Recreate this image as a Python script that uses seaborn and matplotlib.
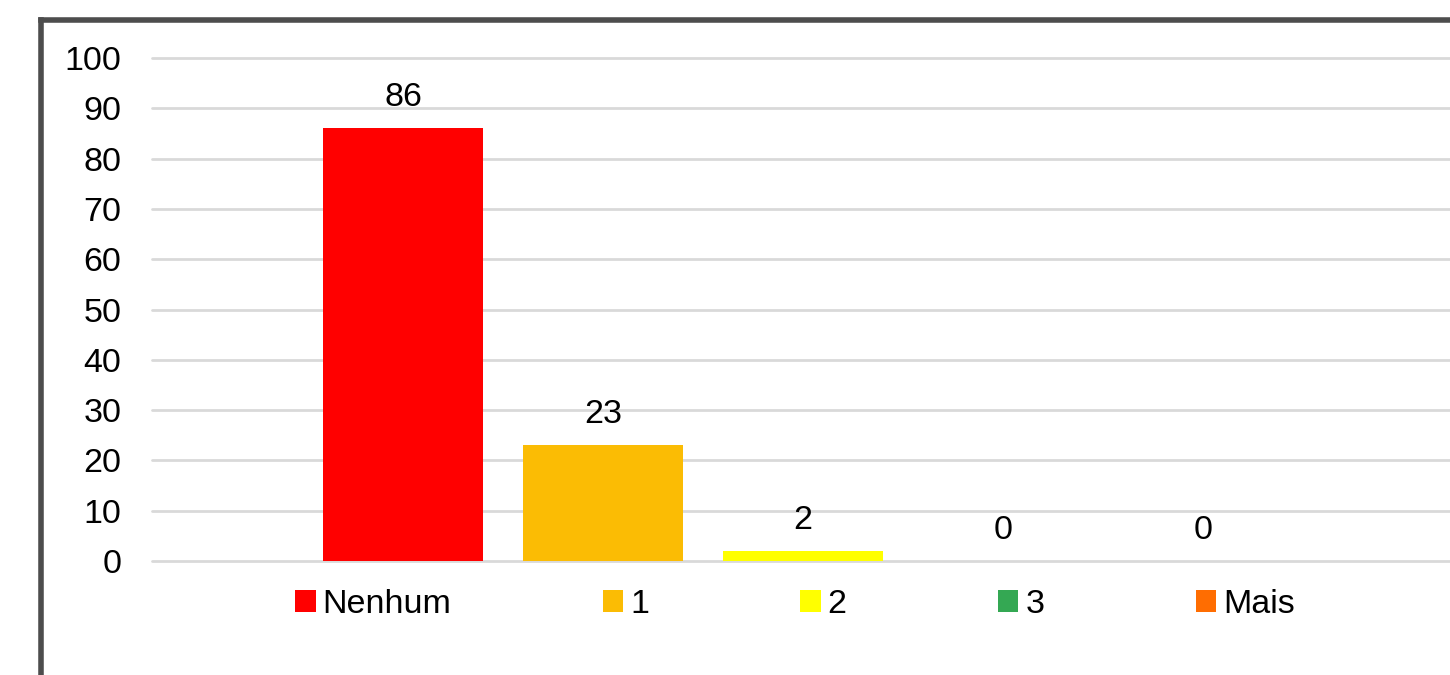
import matplotlib
matplotlib.use("Agg")
import matplotlib.pyplot as plt
import seaborn as sns
import pandas as pd
from matplotlib.lines import Line2D

categories = ["Nenhum", "1", "2", "3", "Mais"]
values = [86, 23, 2, 0, 0]
colors = ["#FF0000", "#FBBC04", "#FFFF00", "#34A853", "#FF6D01"]
y_ticks = [0, 10, 20, 30, 40, 50, 60, 70, 80, 90, 100]

sns.set_theme(style="white")
plt.rcParams["font.family"] = ["Liberation Sans", "DejaVu Sans"]
plt.rcParams["text.color"] = "black"

FS = 24.5

df = pd.DataFrame({"cat": categories, "val": values})

fig = plt.figure(figsize=(14.5, 6.75), dpi=100)
ax = fig.add_axes([152 / 1450, 1 - 561 / 675, 1 - 152 / 1450, (561 - 58) / 675])

sns.barplot(data=df, x="cat", y="val", hue="cat", palette=colors,
            width=0.8, saturation=1, legend=True, ax=ax, zorder=3,
            linewidth=0)

for c in ax.containers:
    ax.bar_label(c, fontsize=FS, padding=11, color="black")

ax.set_ylim(0, 100)
ax.set_yticks(y_ticks)
ax.set_xlim(-1.255, 5.235)
ax.set_xticks([])
ax.set_xlabel("")
ax.set_ylabel("")
ax.tick_params(axis="y", length=0, pad=22, labelsize=FS, labelcolor="black")
ax.yaxis.grid(True, color="#d9d9d9", linewidth=2, zorder=0)
for gl in ax.yaxis.get_gridlines():
    gl.set_clip_on(False)
ax.set_axisbelow(True)
sns.despine(ax=ax, left=True, bottom=True)

sns.move_legend(ax, "center", bbox_to_anchor=(0.4954, -0.0855), ncol=5,
                frameon=False, title=None, fontsize=FS, labelcolor="black",
                columnspacing=4.45, handletextpad=0.2, handlelength=0.6,
                handleheight=0.62, borderpad=0)

# outer chart frame (left and top edges visible)
fig.add_artist(Line2D([40.5 / 1450, 40.5 / 1450], [0, 1 - 19.5 / 675],
                      transform=fig.transFigure, color="#4d4d4d", linewidth=4,
                      solid_capstyle="projecting"))
fig.add_artist(Line2D([40.5 / 1450, 1], [1 - 19.5 / 675, 1 - 19.5 / 675],
                      transform=fig.transFigure, color="#4d4d4d", linewidth=4,
                      solid_capstyle="projecting"))

fig.savefig("out.png", dpi=100)
